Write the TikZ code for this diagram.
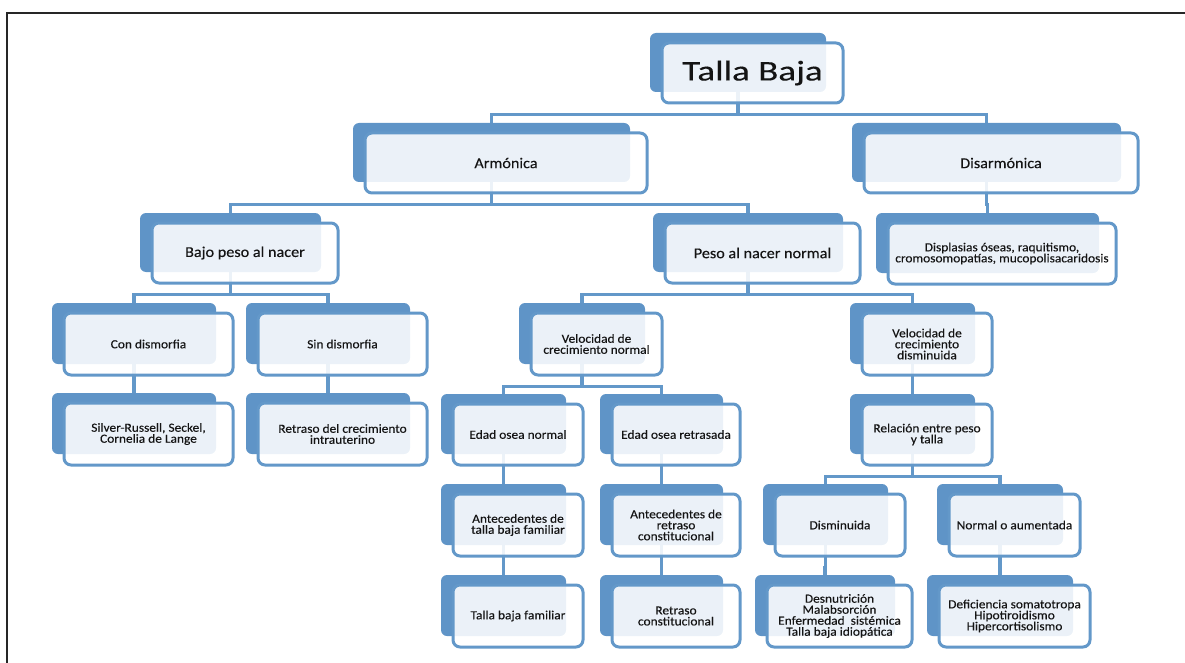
\documentclass[tikz,border=0pt]{standalone}
\usepackage{fontspec}
\setmainfont[FakeStretch=1.08,FakeBold=0.25]{Carlito}
\newfontfamily\bigfont[FakeStretch=1.3,FakeBold=0.3]{Carlito}
\usetikzlibrary{calc}
\definecolor{backblue}{RGB}{95,148,199}
\definecolor{lineblue}{RGB}{99,152,201}
\definecolor{txt}{RGB}{20,20,20}
\pgfdeclarelayer{connlayer}
\pgfdeclarelayer{bglayer}
\pgfsetlayers{connlayer,bglayer,main}
\tikzset{
  frontbox/.style={draw=lineblue, line width=3pt, rounded corners=7pt, fill=white,
    fill opacity=0.88, text opacity=1, align=center, inner sep=0pt, text=txt},
  backbox/.style={fill=backblue, rounded corners=6pt, inner sep=0pt, draw=none},
  conn/.style={draw=lineblue, line width=3.4pt},
  smalltxt/.style={font=\fontsize{12.4}{11}\selectfont},
  midtxt/.style={font=\fontsize{15}{16}\selectfont},
  bigtxt/.style={font=\bigfont\fontsize{28.5}{30}\selectfont},
}
% #1 name, #2 x1, #3 y1, #4 x2, #5 y2 (front box), #6 style, #7 text
\newcommand\hierbox[7]{%
  \pgfmathsetmacro\hbw{#4-#2}%
  \pgfmathsetmacro\hbh{#5-#3}%
  \pgfmathsetmacro\hbbw{#4-#2-5}%
  \pgfmathsetmacro\hbbh{#5-#3-1}%
  \pgfmathsetmacro\hbx{(#2+#4)/2}%
  \pgfmathsetmacro\hby{(#3+#5)/2}%
  \begin{pgfonlayer}{bglayer}
    \node[backbox, minimum width=\hbbw pt, minimum height=\hbbh pt] (#1B) at (\hbx-14.5,\hby-10.5) {};
  \end{pgfonlayer}
  \node[frontbox, minimum width=\hbw pt, minimum height=\hbh pt, #6] (#1) at (\hbx,\hby) {#7};
  \coordinate (#1bus) at ($(#1.south)+(0,10)$);
}
\newcommand\branch[2]{%
  \begin{pgfonlayer}{connlayer}
    \draw[conn] (#1B.center) -- (#1B.center |- #1bus) -| (#2B.center);
  \end{pgfonlayer}
}
\begin{document}
\begin{tikzpicture}[x=1pt,y=-1pt]
\useasboundingbox (0,0) rectangle (1185,663);
\draw[line width=2.5pt, black!85] (7,665) -- (7,13) -- (1187,13);

\hierbox{TB}{662}{43}{843}{103}{bigtxt}{Talla Baja}
\hierbox{ARM}{365}{133}{647}{193}{midtxt}{Armónica}
\hierbox{DIS}{864}{133}{1138}{193}{midtxt}{Disarmónica}
\hierbox{BPN}{152}{223}{338}{283}{midtxt}{Bajo peso al nacer}
\hierbox{PNN}{665}{223}{860}{283}{midtxt}{Peso al nacer normal}
\hierbox{DSP}{888}{223}{1116}{284}{smalltxt}{Displasias óseas, raquitismo,\\cromosomopatías, mucopolisacaridosis}
\hierbox{CON}{64}{313}{233}{375}{smalltxt}{Con dismorfia}
\hierbox{SIN}{258}{313}{427}{375}{smalltxt}{Sin dismorfia}
\hierbox{VCN}{531}{313}{662}{375}{smalltxt}{Velocidad de\\crecimiento normal}
\hierbox{VCD}{862}{313}{992}{375}{smalltxt}{Velocidad de\\crecimiento\\disminuida}
\hierbox{SRS}{64}{403}{233}{465}{smalltxt}{Silver-Russell, Seckel,\\Cornelia de Lange}
\hierbox{RCI}{258}{403}{427}{465}{smalltxt}{Retraso del crecimiento\\intrauterino}
\hierbox{EON}{453}{404}{583}{465}{smalltxt}{Edad osea normal}
\hierbox{EOR}{612}{404}{740}{465}{smalltxt}{Edad osea retrasada}
\hierbox{REL}{862}{404}{992}{465}{smalltxt}{Relación entre peso\\y talla}
\hierbox{ATB}{453}{494}{583}{556}{smalltxt}{Antecedentes de\\talla baja familiar}
\hierbox{ARC}{612}{494}{740}{556}{smalltxt}{Antecedentes de\\retraso\\constitucional}
\hierbox{DIM}{775}{494}{905}{556}{smalltxt}{Disminuida}
\hierbox{NOA}{949}{494}{1080}{556}{smalltxt}{Normal o aumentada}
\hierbox{TBF}{453}{585}{583}{647}{smalltxt}{Talla baja familiar}
\hierbox{RCO}{612}{585}{740}{647}{smalltxt}{Retraso\\constitucional}
\hierbox{DES}{767}{585}{912}{647}{smalltxt}{Desnutrición\\Malabsorción\\Enfermedad\ \ sistémica\\Talla baja idiopática}
\hierbox{DEF}{939}{585}{1090}{647}{smalltxt}{Deficiencia somatotropa\\Hipotiroidismo\\Hipercortisolismo}

\branch{TB}{ARM}
\branch{TB}{DIS}
\branch{ARM}{BPN}
\branch{ARM}{PNN}
\branch{DIS}{DSP}
\branch{BPN}{CON}
\branch{BPN}{SIN}
\branch{PNN}{VCN}
\branch{PNN}{VCD}
\branch{CON}{SRS}
\branch{SIN}{RCI}
\branch{VCN}{EON}
\branch{VCN}{EOR}
\branch{VCD}{REL}
\branch{EON}{ATB}
\branch{EOR}{ARC}
\branch{ATB}{TBF}
\branch{ARC}{RCO}
\branch{REL}{DIM}
\branch{REL}{NOA}
\branch{DIM}{DES}
\branch{NOA}{DEF}
\end{tikzpicture}
\end{document}
